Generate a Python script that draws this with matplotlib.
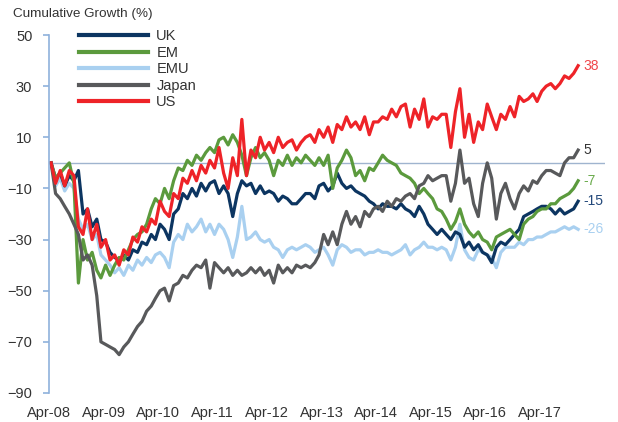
import numpy as np
import pandas as pd
import matplotlib
matplotlib.use("Agg")
import matplotlib.pyplot as plt
from matplotlib.lines import Line2D

plt.rcParams["font.family"] = ["Liberation Sans", "DejaVu Sans"]

# monthly readings, Apr-08 .. Dec-17 (one row per year starting in April)
dates = pd.date_range("2008-04-01", periods=117, freq="MS") + pd.Timedelta(days=14)

us = [0, -8, -3, -9, -3, -5, -25, -28, -18, -30, -24, -33,
      -30, -38, -36, -40, -34, -36, -29, -31, -25, -27, -22, -24,
      -15, -19, -21, -12, -14, -6, -8, -3, -7, -1, -4, 1,
      -2, 6, -4, -10, 2, -5, 17, -5, 5, 2, 10, 5,
      8, 4, 10, 6, 8, 9, 5, 8, 10, 11, 8, 13,
      10, 14, 8, 15, 13, 18, 14, 16, 13, 18, 11, 16,
      16, 18, 17, 21, 18, 22, 23, 14, 21, 17, 25, 14,
      18, 17, 19, 19, 6, 20, 29, 10, 19, 8, 16, 13,
      23, 18, 13, 19, 17, 22, 18, 26, 24, 25, 27, 24,
      28, 30, 31, 29, 31, 34, 33, 35, 38]
uk = [0, -6, -4, -9, -5, -7, -3, -20, -18, -25, -22, -30,
      -31, -35, -37, -38, -36, -38, -34, -35, -31, -32, -28, -30,
      -24, -26, -30, -20, -18, -12, -14, -10, -13, -8, -11, -8,
      -7, -12, -9, -12, -21, -12, -7, -9, -8, -12, -9, -12,
      -11, -12, -15, -13, -14, -16, -16, -14, -12, -12, -14, -9,
      -8, -11, -9, -4, -8, -10, -9, -11, -12, -13, -15, -16,
      -18, -16, -17, -17, -18, -16, -18, -19, -21, -17, -20, -24,
      -26, -28, -26, -28, -30, -27, -28, -33, -31, -34, -32, -35,
      -36, -39, -33, -31, -32, -30, -28, -26, -21, -20, -19, -18,
      -17, -17, -18, -20, -18, -20, -19, -18, -15]
em = [0, -6, -4, -2, 0, -8, -47, -30, -38, -35, -42, -45,
      -40, -44, -40, -37, -38, -34, -30, -28, -27, -24, -18, -14,
      -16, -10, -14, -7, -2, -3, 1, -1, 3, 1, 4, 6,
      4, 9, 10, 7, 11, 8, 3, -5, 2, 6, 2, 4,
      1, -5, 1, -1, 3, -1, 2, 0, 3, 1, -1, 2,
      -1, 3, -10, -2, 1, 5, 2, -5, -3, -7, -2, -3,
      0, 3, 1, 0, -1, -4, -5, -6, -8, -12, -10, -12,
      -14, -18, -19, -22, -26, -23, -18, -24, -27, -29, -27, -30,
      -31, -34, -29, -28, -27, -26, -28, -30, -24, -22, -21, -19,
      -18, -18, -16, -16, -14, -13, -12, -10, -7]
emu = [0, -9, -6, -11, -8, -10, -22, -26, -24, -30, -28, -36,
       -38, -40, -43, -41, -44, -40, -42, -38, -40, -37, -39, -36,
       -35, -37, -41, -31, -28, -30, -24, -27, -25, -22, -27, -24,
       -28, -24, -26, -30, -37, -29, -17, -30, -29, -27, -30, -31,
       -30, -33, -34, -37, -34, -33, -34, -33, -32, -33, -35, -34,
       -33, -36, -40, -34, -32, -33, -35, -34, -34, -36, -35, -35,
       -34, -35, -35, -36, -35, -34, -32, -36, -34, -33, -31, -33,
       -33, -34, -33, -34, -38, -33, -24, -34, -37, -38, -34, -35,
       -36, -37, -41, -35, -33, -33, -33, -31, -32, -30, -30, -29,
       -29, -28, -27, -27, -26, -25, -26, -25, -26]
japan = [0, -12, -14, -17, -20, -24, -28, -38, -36, -40, -52, -70,
         -71, -72, -73, -75, -72, -70, -67, -64, -62, -58, -56, -53,
         -50, -49, -54, -48, -47, -44, -45, -42, -40, -41, -38, -49,
         -39, -41, -43, -41, -44, -42, -44, -43, -41, -43, -41, -44,
         -42, -47, -40, -43, -41, -43, -40, -41, -40, -41, -39, -36,
         -28, -32, -27, -32, -24, -19, -24, -21, -25, -19, -21, -18,
         -17, -19, -15, -17, -14, -15, -13, -12, -14, -9, -8, -5,
         -7, -6, -5, -5, -15, -8, 5, -8, -6, -16, -21, -8,
         0, -6, -22, -12, -8, -14, -18, -12, -9, -11, -7, -8,
         -5, -3, -3, -4, -5, 0, 2, 2, 5]

NAVY, GREEN, LBLUE, GREY, RED = "#0c3561", "#5b9a3d", "#a9d0f0", "#58595b", "#ee2328"
series = [("UK", uk, NAVY, "#23487a"), ("EM", em, GREEN, "#6aab4c"),
          ("EMU", emu, LBLUE, "#a9d0f0"), ("Japan", japan, GREY, "#333333"),
          ("US", us, RED, "#f0464a")]
draw_order = ["EMU", "UK", "EM", "Japan", "US"]
AXC = "#8fb1dc"

fig = plt.figure(figsize=(6.18, 4.22), dpi=100)
ax = fig.add_axes([49 / 618, 29 / 422, 556 / 618, 358 / 422])
lookup = {s[0]: s for s in series}
for name in draw_order:
    _, vals, col, _ = lookup[name]
    ax.plot(dates, vals, color=col, lw=2.3, solid_joinstyle="round")
ax.axhline(0, color="#9fb4cf", lw=1.0, zorder=0.5)

for name, vals, col, lab_col in series:
    ax.annotate(f"{vals[-1]}", (dates[-1], vals[-1]), xytext=(4, 0),
                textcoords="offset points", va="center", ha="left",
                fontsize=10, color=lab_col)

ax.set_ylim(-90, 50)
ax.set_yticks(np.arange(-90, 51, 20))
ax.set_xlim(pd.Timestamp("2008-04-01"), pd.Timestamp("2018-06-13"))
xt = pd.date_range("2008-04-01", "2017-04-01", freq="12MS")
ax.set_xticks(xt)
ax.set_xticklabels([d.strftime("Apr-%y") for d in xt])
for s in ["top", "right", "bottom"]:
    ax.spines[s].set_visible(False)
ax.spines["left"].set_color(AXC)
ax.spines["left"].set_linewidth(1.2)
ax.tick_params(axis="y", direction="out", length=4, width=1.2, color=AXC,
               pad=8, labelsize=10.5, labelcolor="#333333")
ax.tick_params(axis="x", length=0, pad=9, labelsize=10.5, labelcolor="#333333")

handles = [Line2D([], [], color=c, lw=3) for _, _, c, _ in series]
fig.legend(handles, [s[0] for s in series], loc="upper left",
           bbox_to_anchor=(79 / 618, 1 - 29.5 / 422), frameon=False,
           handlelength=4.7, handletextpad=0.6, labelspacing=0.17,
           borderpad=0, borderaxespad=0, fontsize=10.5, labelcolor="#333333")

fig.text(13 / 618, 1 - 14 / 422, "Cumulative Growth (%)", fontsize=9.7,
         color="#333333", va="center", ha="left")

fig.savefig("out.png", dpi=100)
